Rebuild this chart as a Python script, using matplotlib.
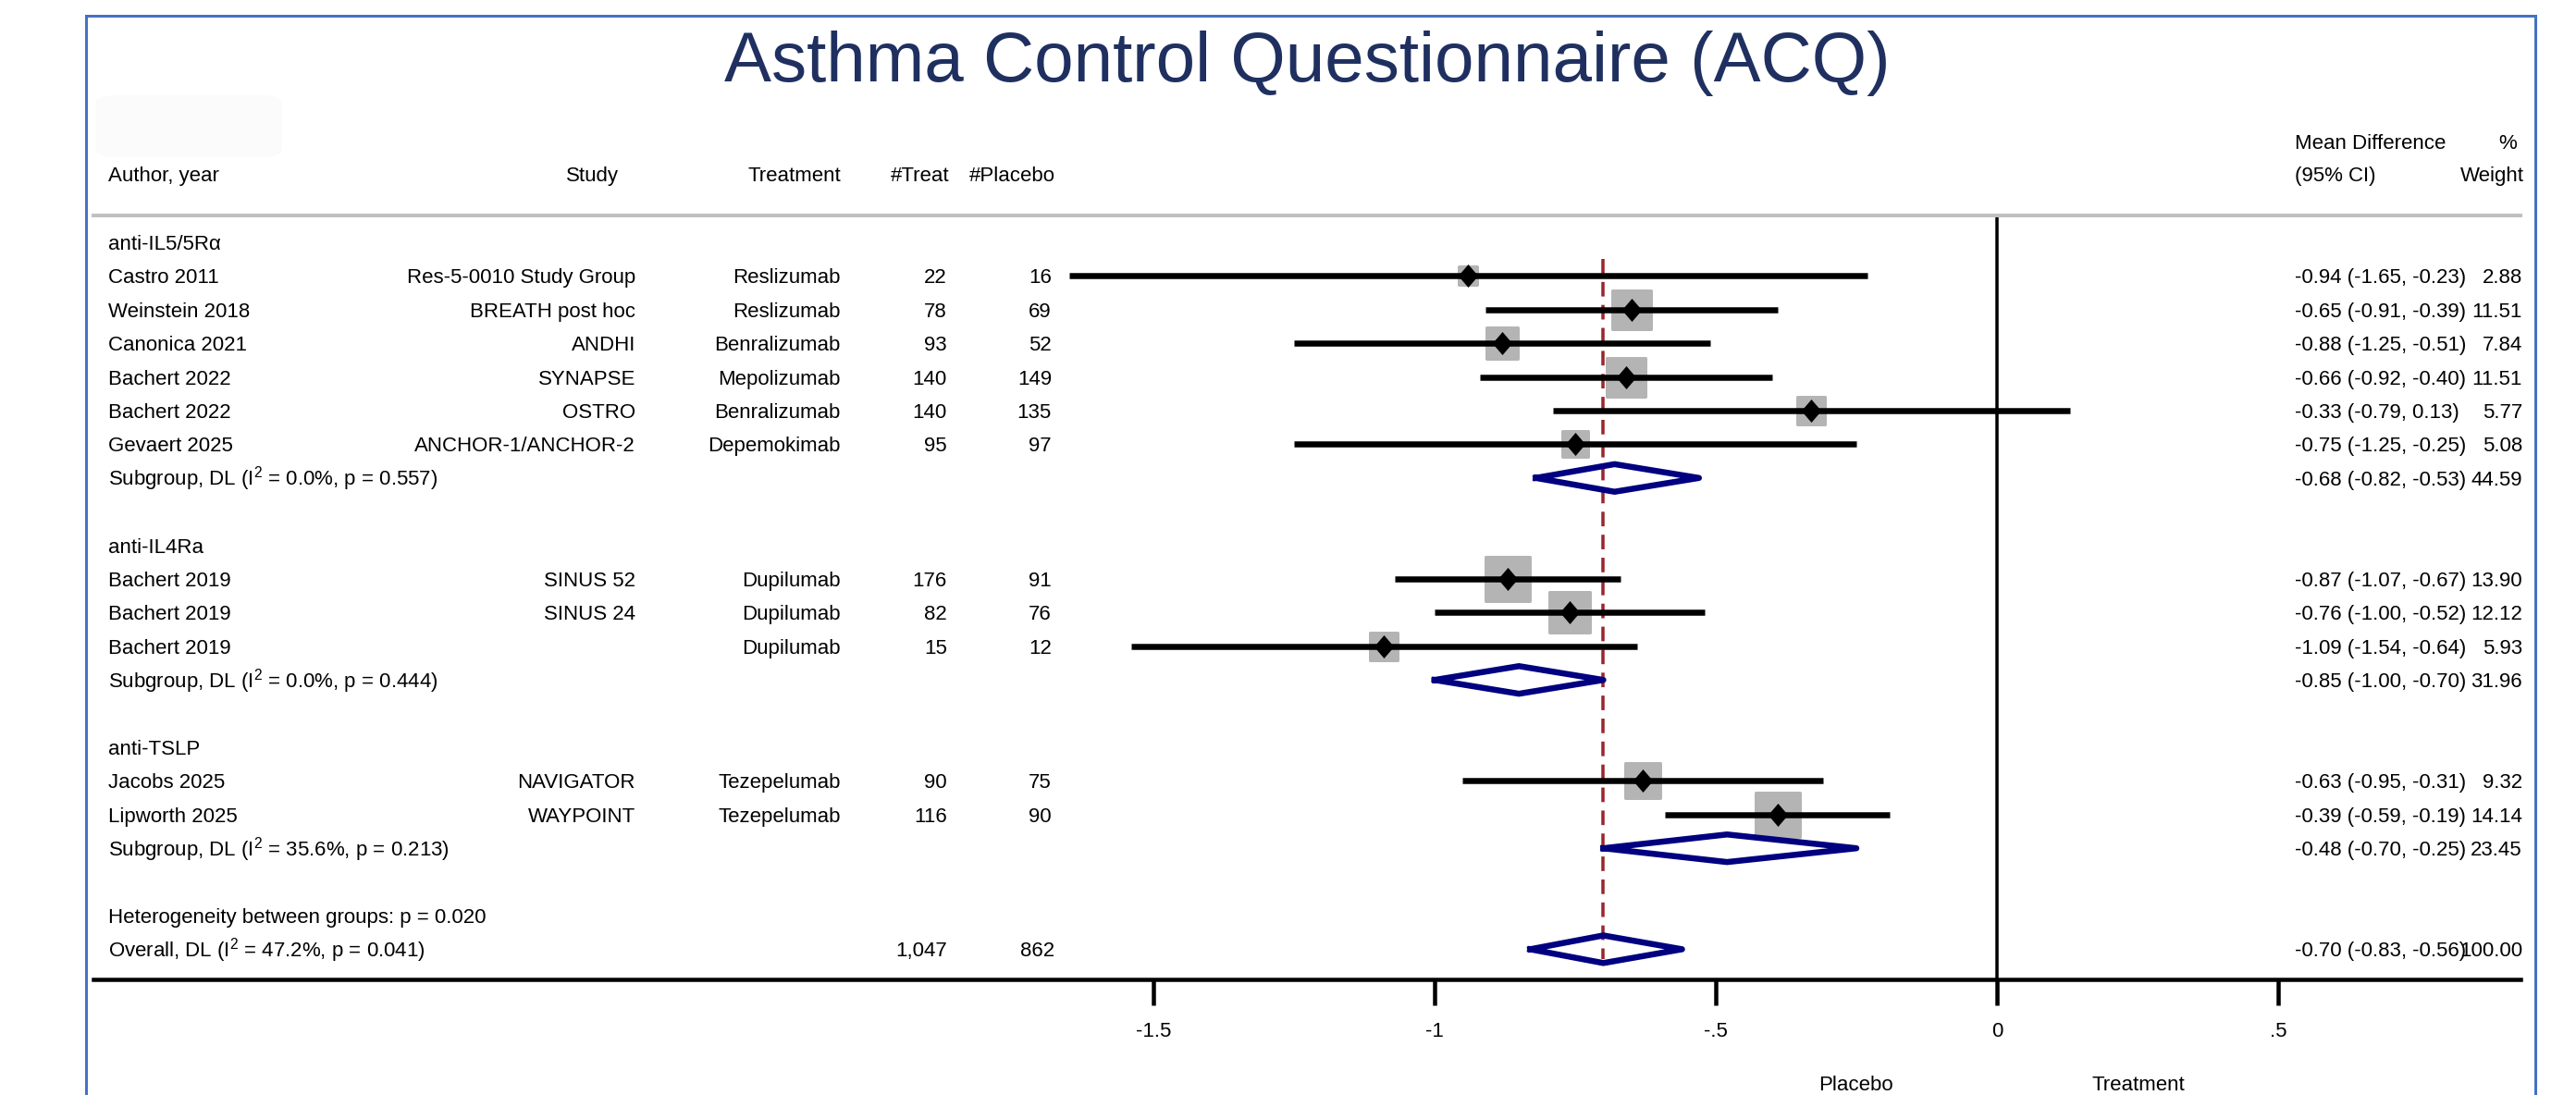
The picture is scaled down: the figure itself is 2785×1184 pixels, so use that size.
import matplotlib
matplotlib.use("Agg")
import numpy as np
import matplotlib.pyplot as plt
from matplotlib.markers import MarkerStyle
from matplotlib.lines import Line2D
from matplotlib.patches import FancyBboxPatch

# ---- data ----
groups = ["anti-IL5/5Rα", "anti-IL4Ra", "anti-TSLP"]
group_of = [0, 0, 0, 0, 0, 0, 1, 1, 1, 2, 2]
authors = ["Castro 2011", "Weinstein 2018", "Canonica 2021", "Bachert 2022", "Bachert 2022",
           "Gevaert 2025", "Bachert 2019", "Bachert 2019", "Bachert 2019",
           "Jacobs 2025", "Lipworth 2025"]
studies = ["Res-5-0010 Study Group", "BREATH post hoc", "ANDHI", "SYNAPSE", "OSTRO",
           "ANCHOR-1/ANCHOR-2", "SINUS 52", "SINUS 24", "", "NAVIGATOR", "WAYPOINT"]
treatments = ["Reslizumab", "Reslizumab", "Benralizumab", "Mepolizumab", "Benralizumab",
              "Depemokimab", "Dupilumab", "Dupilumab", "Dupilumab", "Tezepelumab", "Tezepelumab"]
n_treat = [22, 78, 93, 140, 140, 95, 176, 82, 15, 90, 116]
n_placebo = [16, 69, 52, 149, 135, 97, 91, 76, 12, 75, 90]
md = [-0.94, -0.65, -0.88, -0.66, -0.33, -0.75, -0.87, -0.76, -1.09, -0.63, -0.39]
ci_lo = [-1.65, -0.91, -1.25, -0.92, -0.79, -1.25, -1.07, -1.00, -1.54, -0.95, -0.59]
ci_hi = [-0.23, -0.39, -0.51, -0.40, 0.13, -0.25, -0.67, -0.52, -0.64, -0.31, -0.19]
weight = [2.88, 11.51, 7.84, 11.51, 5.77, 5.08, 13.90, 12.12, 5.93, 9.32, 14.14]

sub_md = [-0.68, -0.85, -0.48]
sub_lo = [-0.82, -1.00, -0.70]
sub_hi = [-0.53, -0.70, -0.25]
sub_w = [44.59, 31.96, 23.45]
sub_i2 = [0.0, 0.0, 35.6]
sub_p = [0.557, 0.444, 0.213]

ov_md, ov_lo, ov_hi, ov_w = -0.70, -0.83, -0.56, 100.00
ov_i2, ov_p = 47.2, 0.041
het_p = 0.020
tot_treat, tot_placebo = 1047, 862

xticks = [-1.5, -1, -0.5, 0, 0.5]
xticklabels = ["-1.5", "-1", "-.5", "0", ".5"]

# ---- layout ----
W, H, DPI = 2785, 1184, 100
PX = 72 / DPI
plt.rcParams['font.family'] = ['Liberation Sans', 'DejaVu Sans']
plt.rcParams['mathtext.fontset'] = 'custom'
plt.rcParams['mathtext.rm'] = 'Liberation Sans'
plt.rcParams['mathtext.default'] = 'regular'

fig = plt.figure(figsize=(W / DPI, H / DPI), dpi=DPI)
fig.patch.set_facecolor("white")

ax_l, ax_r, ax_t, ax_b = 101, 2725, 233, 1059
ax = fig.add_axes([ax_l / W, 1 - ax_b / H, (ax_r - ax_l) / W, (ax_b - ax_t) / H])
x0, unit = 2159, 608
row0, rowh = 262, 36.4
ax.set_xlim((ax_l - x0) / unit, (ax_r - x0) / unit)
ax.set_ylim((ax_b - row0) / rowh, (ax_t - row0) / rowh)


def xd(px):
    return (px - x0) / unit


def yr(px):
    return (px - row0) / rowh


FS = 16
BL = 0.22  # baseline offset in rows
TXT = dict(fontsize=FS, va="baseline", color="black")

# blue frame + faint box
blue = "#4472c4"
for xs, ys in [([93, 93], [17, H]), ([93, 2741], [17, 17]), ([2741, 2741], [17, H])]:
    fig.add_artist(Line2D([x / W for x in xs], [1 - y / H for y in ys],
                          transform=fig.transFigure, color=blue, lw=3 * PX))
fig.add_artist(FancyBboxPatch((103 / W, 1 - 170 / H), 202 / W, 67 / H,
                              boxstyle="round,pad=0,rounding_size=0.008",
                              transform=fig.transFigure, fc="#fbfbfb", ec="none"))

fig.text(1413 / W, 1 - 88 / H, "Asthma Control Questionnaire (ACQ)", ha="center",
         va="baseline", fontsize=55, color="#1f3060")

# headers
hy = yr(188) + BL
ax.text(xd(117), hy, "Author, year", ha="left", **TXT)
ax.text(xd(669), hy, "Study", ha="right", **TXT)
ax.text(xd(909), hy, "Treatment", ha="right", **TXT)
ax.text(xd(1027), hy, "#Treat", ha="right", **TXT)
ax.text(xd(1141), hy, "#Placebo", ha="right", **TXT)
ax.text(xd(2481), yr(153) + BL, "Mean Difference", ha="left", **TXT)
ax.text(xd(2481), hy, "(95% CI)", ha="left", **TXT)
ax.text(xd(2721), yr(153) + BL, "%", ha="right", **TXT)
ax.text(xd(2729), hy, "Weight", ha="right", **TXT)

diamond = [(0, 1), (0.86, 0), (0, -1), (-0.86, 0), (0, 1)]
box_marker = MarkerStyle("s", joinstyle="round")
navy = "#000080"


def ci_text(r, m, lo, hi, w):
    ax.text(xd(2481), r + BL, f"{m:.2f} ({lo:.2f}, {hi:.2f})", ha="left", **TXT)
    ax.text(xd(2727), r + BL, f"{w:.2f}", ha="right", **TXT)


def draw_diamond(r, m, lo, hi):
    ax.plot([lo, m, hi, m, lo], [r, r - 0.41, r, r + 0.41, r], color=navy,
            lw=6.5 * PX, solid_joinstyle="round", zorder=5)


r = 0
first_row = None
for g, gname in enumerate(groups):
    ax.text(xd(117), r + BL, gname, ha="left", **TXT)
    r += 1
    for i in [k for k in range(len(authors)) if group_of[k] == g]:
        if first_row is None:
            first_row = r
        ax.text(xd(117), r + BL, authors[i], ha="left", **TXT)
        ax.text(xd(687), r + BL, studies[i], ha="right", **TXT)
        ax.text(xd(909), r + BL, treatments[i], ha="right", **TXT)
        ax.text(xd(1024), r + BL, str(n_treat[i]), ha="right", **TXT)
        ax.text(xd(1137), r + BL, str(n_placebo[i]), ha="right", **TXT)
        side = 13.5 * np.sqrt(weight[i])
        ax.plot(md[i], r, marker=box_marker, ms=(side - 3) * PX, mfc="#b4b4b4",
                mec="#b4b4b4", mew=3 * PX, ls="none", zorder=3)
        ax.plot([ci_lo[i], ci_hi[i]], [r, r], color="black", lw=6.5 * PX,
                solid_capstyle="butt", zorder=4)
        ax.plot(md[i], r, marker=diamond, ms=25 * PX, color="black", mew=0,
                ls="none", zorder=6)
        ci_text(r, md[i], ci_lo[i], ci_hi[i], weight[i])
        r += 1
    ax.text(xd(117), r + BL,
            f"Subgroup, DL (I$^2$ = {sub_i2[g]:.1f}%, p = {sub_p[g]:.3f})", ha="left", **TXT)
    draw_diamond(r, sub_md[g], sub_lo[g], sub_hi[g])
    ci_text(r, sub_md[g], sub_lo[g], sub_hi[g], sub_w[g])
    r += 2

ax.text(xd(117), r + BL, f"Heterogeneity between groups: p = {het_p:.3f}", ha="left", **TXT)
r += 1
ax.text(xd(117), r + BL, f"Overall, DL (I$^2$ = {ov_i2:.1f}%, p = {ov_p:.3f})", ha="left", **TXT)
ax.text(xd(1024), r + BL, f"{tot_treat:,}", ha="right", **TXT)
ax.text(xd(1140), r + BL, f"{tot_placebo:,}", ha="right", **TXT)
draw_diamond(r, ov_md, ov_lo, ov_hi)
ci_text(r, ov_md, ov_lo, ov_hi, ov_w)

# reference lines
ax.axvline(0, color="black", lw=3.5 * PX, zorder=1)
ax.plot([ov_md, ov_md], [first_row - 0.5, r + 0.3], color="#98262c", lw=3.5 * PX,
        dashes=(4.5, 2.6), zorder=3.5)

# axes styling
for s in ["left", "right"]:
    ax.spines[s].set_visible(False)
ax.spines["top"].set_color("#c0c0c0")
ax.spines["top"].set_linewidth(4 * PX)
ax.spines["bottom"].set_color("black")
ax.spines["bottom"].set_linewidth(4.5 * PX)
ax.set_yticks([])
ax.set_xticks(xticks)
ax.set_xticklabels(xticklabels)
ax.tick_params(axis="x", direction="out", length=28 * PX, width=4.5 * PX,
               pad=18 * PX, labelsize=FS)

fig.text(2006 / W, 1 - 1179 / H, "Placebo", ha="center", va="baseline", fontsize=FS)
fig.text(2312 / W, 1 - 1179 / H, "Treatment", ha="center", va="baseline", fontsize=FS)

fig.savefig("out.png", dpi=DPI)
